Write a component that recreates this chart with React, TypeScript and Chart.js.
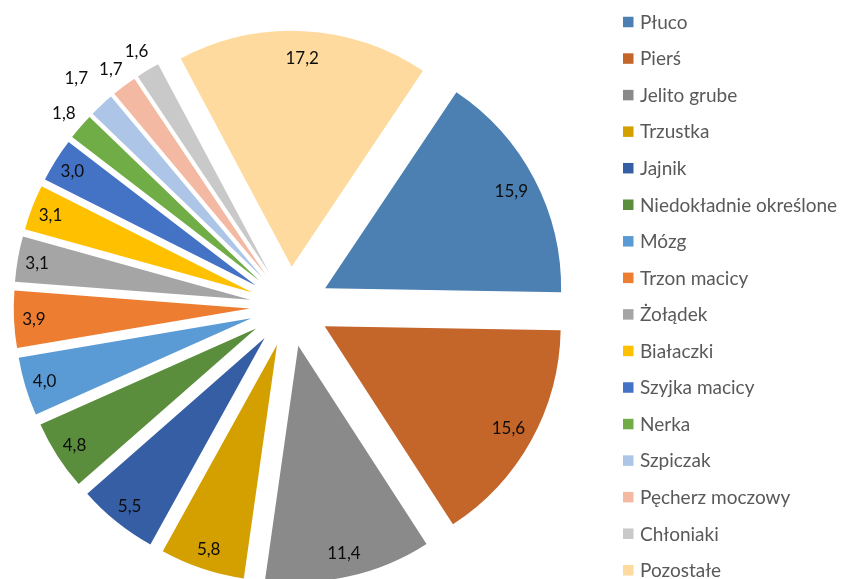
import React, { useEffect, useRef } from "react";
import { Chart, registerables } from "chart.js";

Chart.register(...registerables);

const categories: string[] = [
  "Płuco",
  "Pierś",
  "Jelito grube",
  "Trzustka",
  "Jajnik",
  "Niedokładnie określone",
  "Mózg",
  "Trzon macicy",
  "Żołądek",
  "Białaczki",
  "Szyjka macicy",
  "Nerka",
  "Szpiczak",
  "Pęcherz moczowy",
  "Chłoniaki",
  "Pozostałe",
];

const values: number[] = [15.9, 15.6, 11.4, 5.8, 5.5, 4.8, 4.0, 3.9, 3.1, 3.1, 3.0, 1.8, 1.7, 1.7, 1.6, 17.2];

const colors: string[] = [
  "#4C7FB2",
  "#C4652A",
  "#8A8A8A",
  "#D4A000",
  "#365EA4",
  "#5A8E3C",
  "#5B9BD5",
  "#ED7D31",
  "#A5A5A5",
  "#FFC000",
  "#4472C4",
  "#70AD47",
  "#ADC5E7",
  "#F4B9A3",
  "#C9C9C9",
  "#FFDA9E",
];

const FONT = "Lato, 'Open Sans', sans-serif";
const EXPLODE = 40;
const RADIUS = 236;
const OUTSIDE_THRESHOLD = 2;
const labelNudge: Record<string, number> = { Szpiczak: 15 };

const explodePlugin = {
  id: "explode",
  beforeDatasetDraw(chart: any, args: any) {
    const ctx = chart.ctx;
    args.meta.data.forEach((arc: any) => {
      const { startAngle, endAngle } = arc.getProps(["startAngle", "endAngle"], true);
      const mid = (startAngle + endAngle) / 2;
      ctx.save();
      ctx.translate(Math.cos(mid) * EXPLODE, Math.sin(mid) * EXPLODE);
      arc.draw(ctx);
      ctx.restore();
    });
    return false;
  },
};

const labelPlugin = {
  id: "sliceLabels",
  afterDatasetsDraw(chart: any) {
    const ctx = chart.ctx;
    const meta = chart.getDatasetMeta(0);
    const data = chart.data.datasets[0].data as number[];
    const size = 17;
    ctx.save();
    ctx.font = `${size}px ${FONT}`;
    ctx.fillStyle = "#0d0d0d";
    ctx.textAlign = "center";
    ctx.textBaseline = "alphabetic";
    meta.data.forEach((arc: any, i: number) => {
      const { x, y, startAngle, endAngle, outerRadius } = arc.getProps(
        ["x", "y", "startAngle", "endAngle", "outerRadius"],
        true
      );
      const mid = (startAngle + endAngle) / 2;
      const v = data[i];
      let dist: number;
      if (v < OUTSIDE_THRESHOLD) {
        dist = EXPLODE + outerRadius + 22 + (labelNudge[chart.data.labels[i]] || 0);
      } else {
        dist = EXPLODE + outerRadius - 18 - 0.5 * v;
      }
      const lx = x + Math.cos(mid) * dist;
      const ly = y + Math.sin(mid) * dist;
      const txt = v.toFixed(1).replace(".", ",");
      ctx.fillText(txt, lx, ly + 0.36 * size);
    });
    ctx.restore();
  },
};

const legendPlugin = {
  id: "sideLegend",
  afterDraw(chart: any) {
    const ctx = chart.ctx;
    const labels = chart.data.labels as string[];
    const bg = chart.data.datasets[0].backgroundColor as string[];
    const size = 19;
    const top = 22;
    const step = 36.55;
    const boxX = 623;
    const box = 10.5;
    const textX = 640;
    ctx.save();
    ctx.font = `${size}px ${FONT}`;
    ctx.textAlign = "left";
    ctx.textBaseline = "alphabetic";
    labels.forEach((lab, i) => {
      const cy = top + i * step;
      ctx.fillStyle = bg[i];
      ctx.fillRect(boxX, cy - box / 2, box, box);
      ctx.fillStyle = "#595959";
      ctx.fillText(lab, textX, cy + 0.36 * size);
    });
    ctx.restore();
  },
};

export default function App() {
  const ref = useRef<HTMLCanvasElement | null>(null);

  useEffect(() => {
    if (!ref.current) return;
    const chart = new Chart(ref.current, {
      type: "pie",
      data: {
        labels: categories,
        datasets: [
          {
            data: values,
            backgroundColor: colors,
            borderWidth: 0,
            radius: RADIUS,
          } as any,
        ],
      },
      options: {
        animation: false,
        responsive: true,
        maintainAspectRatio: false,
        rotation: 33.8,
        layout: { padding: { left: 0, right: 262.6, top: 34.6, bottom: 0 } },
        plugins: {
          legend: { display: false },
          tooltip: { enabled: false },
        },
        events: [],
      },
      plugins: [explodePlugin, labelPlugin, legendPlugin],
    });
    return () => chart.destroy();
  }, []);

  return (
    <div style={{ position: "absolute", left: 0, top: 0, width: 842, height: 579, background: "#fff" }}>
      <canvas ref={ref} />
    </div>
  );
}
